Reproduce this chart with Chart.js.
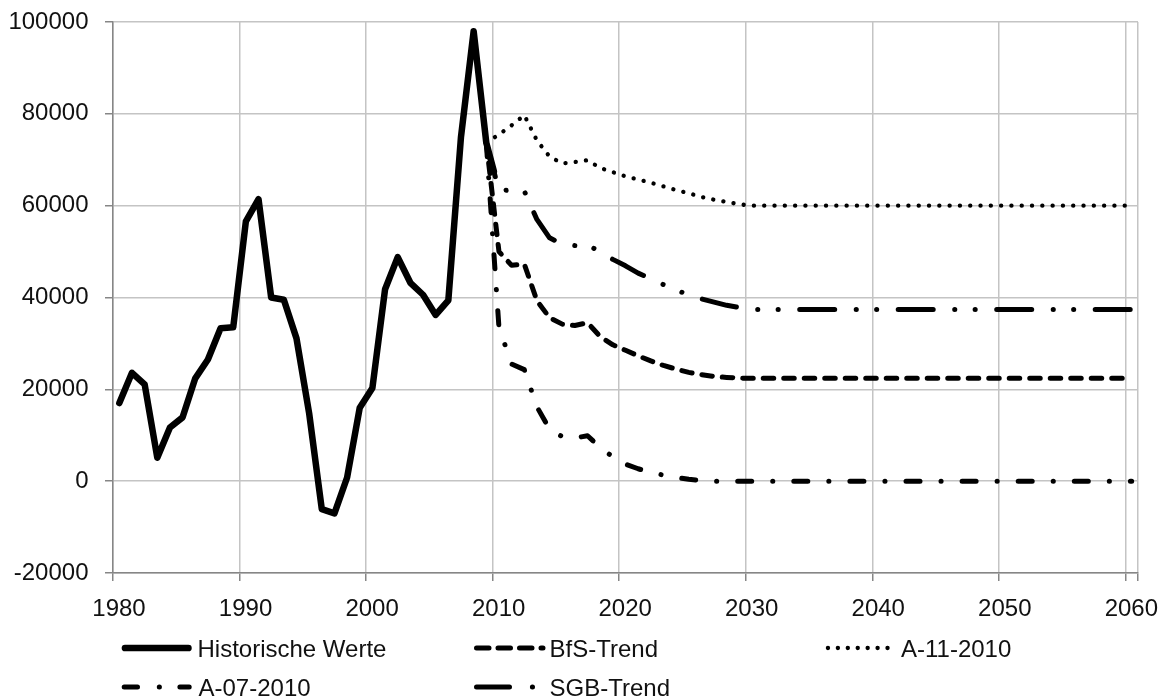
<!DOCTYPE html>
<html lang="de">
<head>
<meta charset="utf-8">
<title>Historische Werte und Trends</title>
<script src="https://cdn.jsdelivr.net/npm/chart.js@4.4.1/dist/chart.umd.min.js"></script>
<style>
  html, body { margin: 0; padding: 0; background: #fff; }
  #wrap { position: relative; width: 1163px; height: 697px; overflow: hidden; }
  #legende svg { position: absolute; overflow: visible; }
  #legende span {
    position: absolute;
    font-family: "Liberation Sans", Arial, sans-serif;
    font-size: 24px;
    line-height: 24px;
    color: #111;
    white-space: nowrap;
  }
</style>
</head>
<body>
<div id="wrap">
  <canvas id="grafik"></canvas>
  <div id="legende"></div>
</div>
<script>
// Historische Werte (Jahresmitte)
const histJahre = [1980.5, 1981.5, 1982.5, 1983.5, 1984.5, 1985.5, 1986.5, 1987.5, 1988.5, 1989.5,
  1990.5, 1991.5, 1992.5, 1993.5, 1994.5, 1995.5, 1996.5, 1997.5, 1998.5, 1999.5,
  2000.5, 2001.5, 2002.5, 2003.5, 2004.5, 2005.5, 2006.5, 2007.5, 2008.5, 2009.5, 2010.1];
const histWerte = [17000, 23600, 21100, 5100, 11700, 13900, 22400, 26500, 33300, 33500,
  56600, 61400, 40000, 39500, 31100, 14800, -6100, -7000, 800, 16000,
  20300, 41800, 48800, 43200, 40600, 36200, 39400, 75000, 98000, 73700, 67500];

// Prognosen
const prognoseJahre = [2009.5, 2010.5, 2011.5, 2012.5, 2013.5, 2014.5, 2015.5, 2016.5, 2017.5, 2018.5,
  2019.5, 2020.5, 2021.5, 2022.5, 2023.5, 2024.5, 2025.5, 2026.5, 2027.5, 2028.5,
  2029.5, 2030.5, 2031.5, 2032.5, 2033.5, 2034.5, 2035.5, 2036.5, 2037.5, 2038.5,
  2039.5, 2040.5, 2041.5, 2042.5, 2043.5, 2044.5, 2045.5, 2046.5, 2047.5, 2048.5,
  2049.5, 2050.5, 2051.5, 2052.5, 2053.5, 2054.5, 2055.5, 2056.5, 2057.5, 2058.5,
  2059.5, 2060.5];
const bfsWerte = [73700, 50000, 47000, 47300, 39300, 35600, 34200, 33900, 34500, 31500,
  29700, 28500, 27300, 26200, 25200, 24400, 23700, 23200, 22800, 22600,
  22450, 22400, 22400, 22400, 22400, 22400, 22400, 22400, 22400, 22400,
  22400, 22400, 22400, 22400, 22400, 22400, 22400, 22400, 22400, 22400,
  22400, 22400, 22400, 22400, 22400, 22400, 22400, 22400, 22400, 22400,
  22400, 22400];
const a11Werte = [73700, 75500, 77500, 79700, 74200, 70700, 69200, 69500, 69900, 68200,
  67300, 66400, 65700, 65000, 64200, 63400, 62700, 61900, 61300, 60800,
  60300, 60000, 60000, 60000, 60000, 60000, 60000, 60000, 60000, 60000,
  60000, 60000, 60000, 60000, 60000, 60000, 60000, 60000, 60000, 60000,
  60000, 60000, 60000, 60000, 60000, 60000, 60000, 60000, 60000, 60000,
  60000, 60000];
const a07Werte = [73700, 33500, 25500, 24300, 16200, 11300, 9700, 9400, 9900, 7300,
  5300, 3700, 2700, 1900, 1300, 800, 400, 150, 0, 0,
  0, 0, 0, 0, 0, 0, 0, 0, 0, 0,
  0, 0, 0, 0, 0, 0, 0, 0, 0, 0,
  0, 0, 0, 0, 0, 0, 0, 0, 0, 0,
  0, 0];
const sgbWerte = [73700, 63300, 63400, 63200, 57000, 53000, 51600, 51300, 51600, 49800,
  48300, 46900, 45300, 44100, 42800, 41600, 40600, 39700, 39000, 38300,
  37800, 37400, 37400, 37400, 37400, 37400, 37400, 37400, 37400, 37400,
  37400, 37400, 37400, 37400, 37400, 37400, 37400, 37400, 37400, 37400,
  37400, 37400, 37400, 37400, 37400, 37400, 37400, 37400, 37400, 37400,
  37400, 37400];

// Achsen
const xTicks = [1980, 1990, 2000, 2010, 2020, 2030, 2040, 2050, 2060];
const yTicks = [-20000, 0, 20000, 40000, 60000, 80000, 100000];

function punkte(jahre, werte) {
  return jahre.map((x, i) => ({ x: x, y: werte[i] }));
}

const serien = [
  { label: "Historische Werte", data: punkte(histJahre, histWerte), borderWidth: 6.5, borderDash: [] },
  { label: "BfS-Trend", data: punkte(prognoseJahre, bfsWerte), borderWidth: 5, borderDash: [10.5, 10] },
  { label: "A-11-2010", data: punkte(prognoseJahre, a11Werte), borderWidth: 4.3, borderDash: [0.1, 10.2] },
  { label: "A-07-2010", data: punkte(prognoseJahre, a07Werte), borderWidth: 5, borderDash: [14, 21, 0.1, 21] },
  { label: "SGB-Trend", data: punkte(prognoseJahre, sgbWerte), borderWidth: 5, borderDash: [35, 21.5, 0.1, 20.3, 0.1, 21.5] }
];

const tickFont = { family: "'Liberation Sans', Arial, sans-serif", size: 24 };

new Chart(document.getElementById("grafik"), {
  type: "line",
  data: {
    datasets: serien.map(s => ({
      label: s.label,
      data: s.data,
      borderColor: "#000",
      backgroundColor: "#000",
      borderWidth: s.borderWidth,
      borderDash: s.borderDash,
      borderCapStyle: "round",
      borderJoinStyle: "round",
      pointRadius: 0,
      tension: 0,
      fill: false
    }))
  },
  options: {
    responsive: true,
    maintainAspectRatio: false,
    animation: false,
    layout: { padding: { left: 0, top: 22, right: 25, bottom: 74 } },
    plugins: { legend: { display: false }, tooltip: { enabled: false } },
    scales: {
      x: {
        type: "linear",
        min: 1980,
        max: 2061,
        afterFit: s => { s.height = 50; },
        afterBuildTicks: s => {
          s.ticks = xTicks.map(v => ({ value: v })).concat([{ value: 2061 }]);
        },
        ticks: {
          color: "#111",
          font: tickFont,
          padding: 14,
          labelOffset: 6,
          maxRotation: 0,
          autoSkip: false,
          callback: v => (xTicks.includes(v) ? String(v) : "")
        },
        grid: { color: "#c4c4c4", lineWidth: 1.5, tickColor: "#868686", tickLength: 8 },
        border: { color: "#868686", width: 1.5 }
      },
      y: {
        min: -20000,
        max: 100000,
        afterFit: s => {
          s.width = 113;
          s.paddingTop = 0;
          s.paddingBottom = 0;
        },
        afterBuildTicks: s => {
          s.ticks = yTicks.map(v => ({ value: v }));
        },
        ticks: {
          color: "#111",
          font: tickFont,
          padding: 16.5,
          callback: v => String(v)
        },
        grid: { color: "#c4c4c4", lineWidth: 1.5, tickColor: "#868686", tickLength: 8 },
        border: { color: "#868686", width: 1.5 }
      }
    }
  }
});

// Legende (zwei Zeilen, drei feste Spalten wie im Original)
const legende = [
  { text: "Historische Werte", x: 120, textX: 197.5, y: 648.3, width: 6.7, dash: "", start: 5, len: 63.4 },
  { text: "BfS-Trend", x: 472, textX: 549.5, y: 648.3, width: 5, dash: "12.5 9", start: 4.5, len: 66.5 },
  { text: "A-11-2010", x: 824, textX: 901, y: 648.3, width: 4.3, dash: "0.1 9.83", start: 3.9, len: 59.8 },
  { text: "A-07-2010", x: 120, textX: 198.5, y: 687.3, width: 5, dash: "13.3 21.8 0.1 20.5", start: 4.2, len: 65 },
  { text: "SGB-Trend", x: 472, textX: 549.5, y: 687.3, width: 5, dash: "33 22.9 0.1 30", start: 4.5, len: 56.1 }
];

const box = document.getElementById("legende");
legende.forEach(e => {
  const ns = "http://www.w3.org/2000/svg";
  const svg = document.createElementNS(ns, "svg");
  svg.setAttribute("width", "80");
  svg.setAttribute("height", "10");
  svg.style.left = e.x + "px";
  svg.style.top = (e.y - 5) + "px";
  const l = document.createElementNS(ns, "line");
  l.setAttribute("x1", e.start);
  l.setAttribute("x2", e.start + e.len);
  l.setAttribute("y1", 5);
  l.setAttribute("y2", 5);
  l.setAttribute("stroke", "#000");
  l.setAttribute("stroke-width", e.width);
  l.setAttribute("stroke-linecap", "round");
  if (e.dash) l.setAttribute("stroke-dasharray", e.dash);
  svg.appendChild(l);
  box.appendChild(svg);

  const t = document.createElement("span");
  t.textContent = e.text;
  t.style.left = e.textX + "px";
  t.style.top = (e.y - 11.5) + "px";
  box.appendChild(t);
});
</script>
</body>
</html>
